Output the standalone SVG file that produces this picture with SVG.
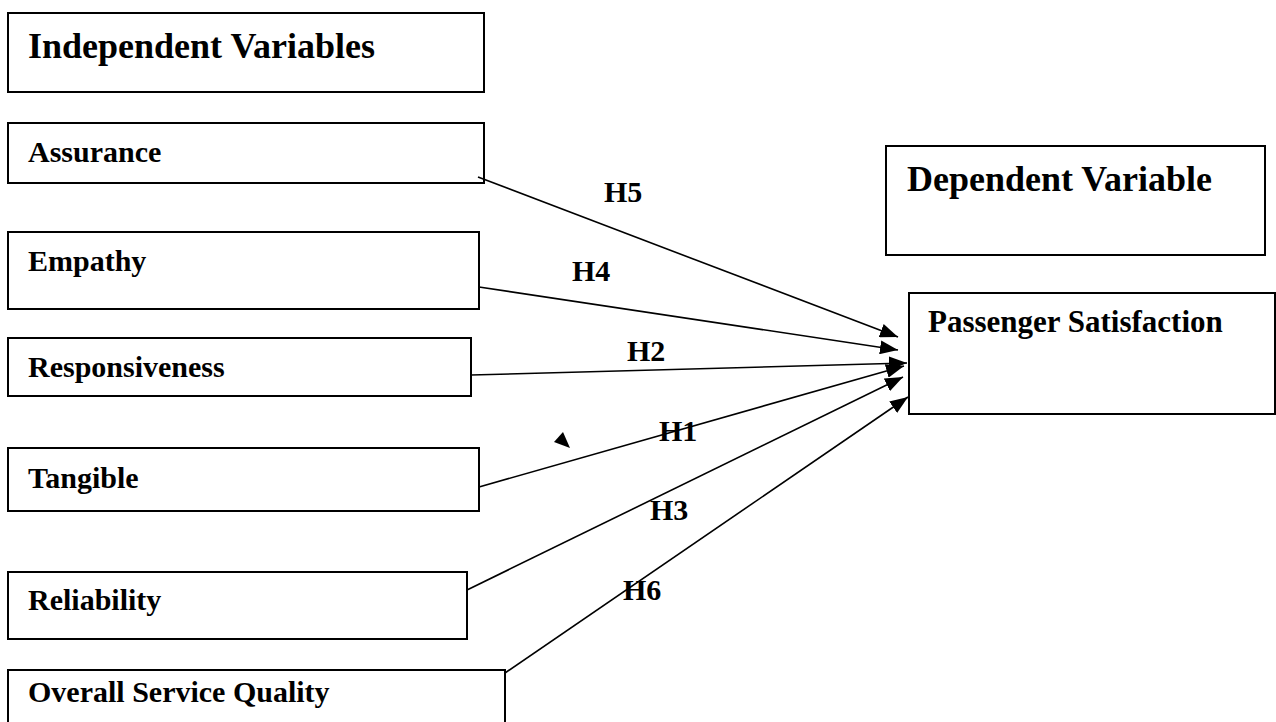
<svg xmlns="http://www.w3.org/2000/svg" width="1276" height="722" viewBox="0 0 1276 722">
<defs>
<style>
.box{fill:#fff;stroke:#000;stroke-width:2}
.t{font-family:"Liberation Serif","Times New Roman",serif;font-weight:bold;font-size:30px;fill:#000}
.h{font-size:36px}
.lbl{font-family:"Liberation Serif","Times New Roman",serif;font-weight:bold;font-size:30px;fill:#000}
.c{stroke:#000;stroke-width:1.6;fill:none;marker-end:url(#arr)}
</style>
<marker id="arr" markerUnits="userSpaceOnUse" markerWidth="20" markerHeight="14" refX="18" refY="7" orient="auto">
<path d="M0,0 L18,7 L0,14 Z" fill="#000"/>
</marker>
</defs>
<rect width="1276" height="722" fill="#fff"/>
<g id="indep-heading"><rect class="box" x="8" y="13" width="476" height="79"/><text class="t h" x="28" y="58">Independent Variables</text></g>
<g id="assurance"><rect class="box" x="8" y="123" width="476" height="60"/><text class="t" x="28" y="162">Assurance</text></g>
<g id="empathy"><rect class="box" x="8" y="232" width="471" height="77"/><text class="t" x="28" y="271">Empathy</text></g>
<g id="responsiveness"><rect class="box" x="8" y="338" width="463" height="58"/><text class="t" x="28" y="377">Responsiveness</text></g>
<g id="tangible"><rect class="box" x="8" y="448" width="471" height="63"/><text class="t" x="28" y="488">Tangible</text></g>
<g id="reliability"><rect class="box" x="8" y="572" width="459" height="67"/><text class="t" x="28" y="610">Reliability</text></g>
<g id="overall"><rect class="box" x="8" y="670" width="497" height="70"/><text class="t" x="28" y="702">Overall Service Quality</text></g>
<g id="dep-heading"><rect class="box" x="886" y="146" width="379" height="109"/><text class="t h" x="907" y="191">Dependent Variable</text></g>
<g id="passenger"><rect class="box" x="909" y="293" width="366" height="121"/><text class="t" x="928" y="332" style="font-size:31px">Passenger Satisfaction</text></g>
<g id="connectors">
<line class="c" x1="478" y1="177" x2="898" y2="337"/>
<line class="c" x1="479" y1="287" x2="898" y2="350"/>
<line class="c" x1="471" y1="375" x2="907" y2="363"/>
<line class="c" x1="479" y1="487" x2="904" y2="366"/>
<line class="c" x1="467" y1="590" x2="903" y2="377"/>
<line class="c" x1="505" y1="673" x2="908" y2="397"/>
<polygon points="563,432 554,442 570,448" fill="#000"/>
<text class="lbl" x="604" y="202">H5</text>
<text class="lbl" x="572" y="281">H4</text>
<text class="lbl" x="627" y="361">H2</text>
<text class="lbl" x="659" y="441">H1</text>
<text class="lbl" x="650" y="520">H3</text>
<text class="lbl" x="623" y="600">H6</text>
</g>
</svg>
